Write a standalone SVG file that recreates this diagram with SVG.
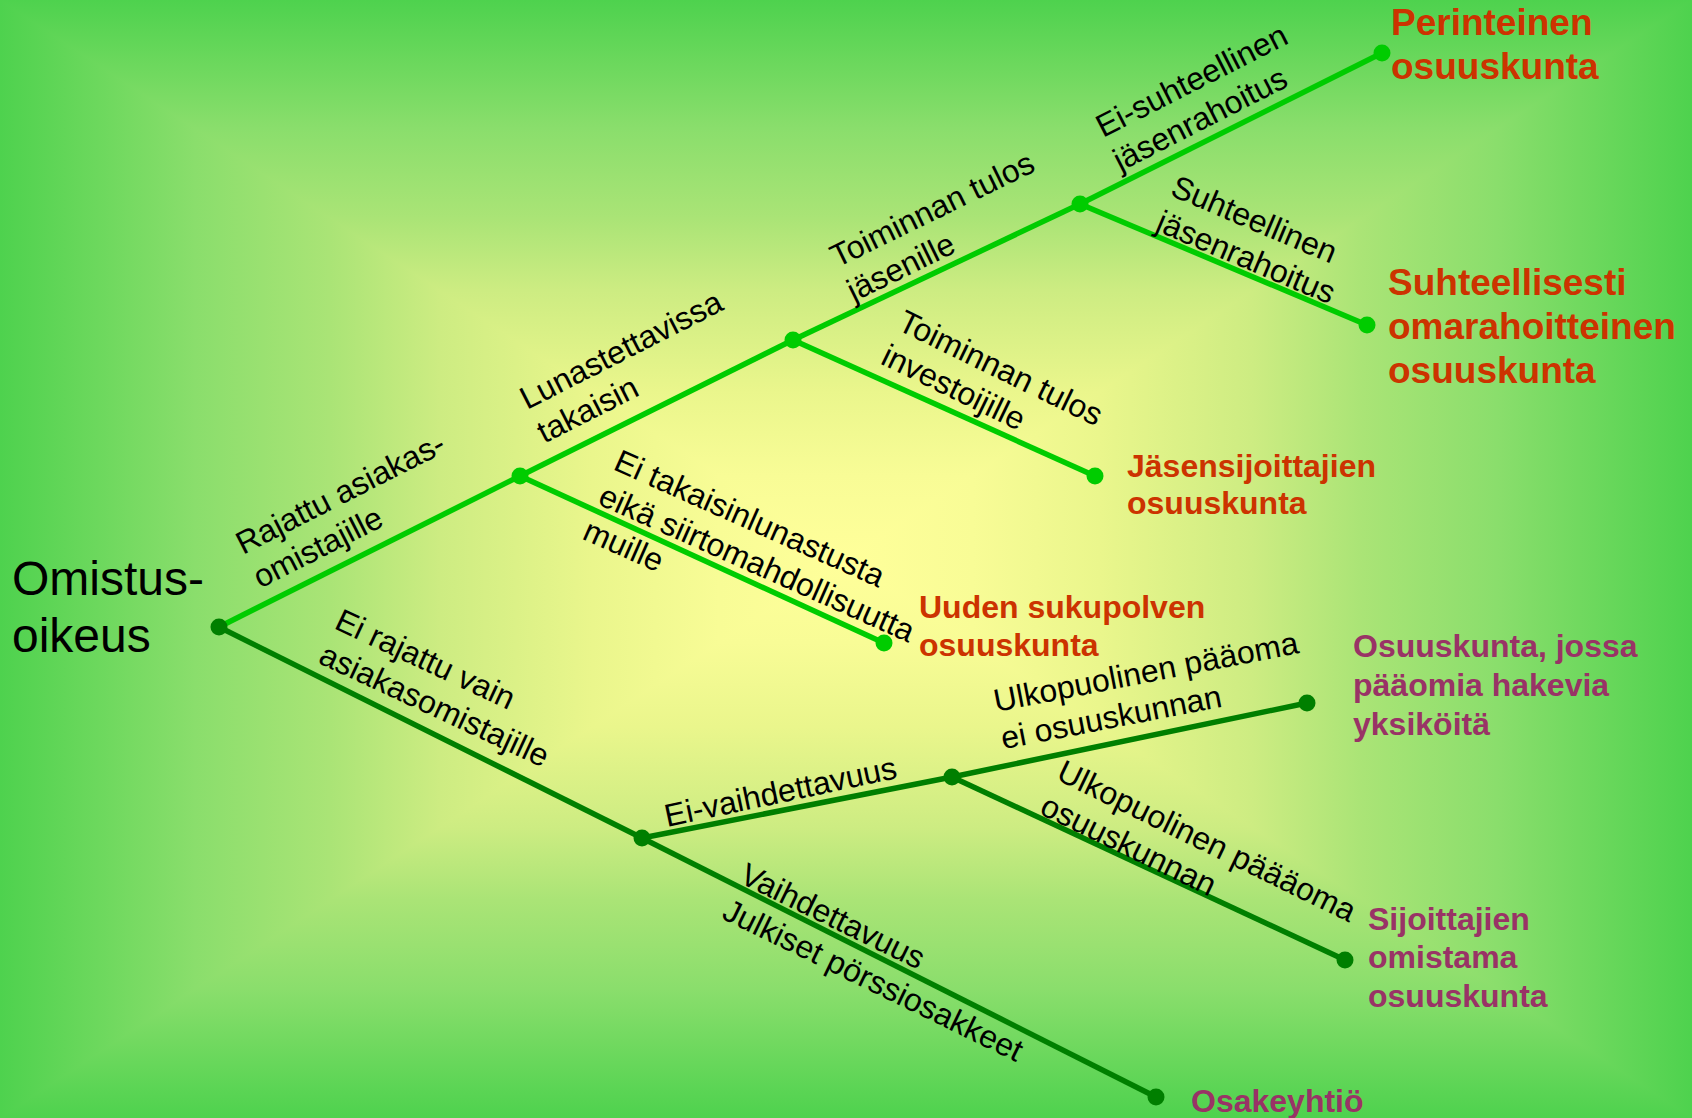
<svg xmlns="http://www.w3.org/2000/svg" xmlns:xlink="http://www.w3.org/1999/xlink" width="1692" height="1118" viewBox="0 0 1692 1118">
<defs>
<linearGradient id="g" gradientUnits="userSpaceOnUse" x1="0" y1="0" x2="846" y2="0">
<stop offset="0" stop-color="#4ED24E"/>
<stop offset="0.23" stop-color="#8ADE6C"/>
<stop offset="0.39" stop-color="#AAE476"/>
<stop offset="0.52" stop-color="#CDEC82"/>
<stop offset="0.70" stop-color="#EAF68C"/>
<stop offset="0.85" stop-color="#F8FC96"/>
<stop offset="1" stop-color="#FFFF9A"/>
</linearGradient>
<linearGradient id="gR" href="#g" xlink:href="#g" gradientUnits="userSpaceOnUse" x1="1692" y1="0" x2="846" y2="0"/>
<linearGradient id="gT" href="#g" xlink:href="#g" gradientUnits="userSpaceOnUse" x1="0" y1="0" x2="0" y2="559"/>
<linearGradient id="gB" href="#g" xlink:href="#g" gradientUnits="userSpaceOnUse" x1="0" y1="1118" x2="0" y2="559"/>
</defs>
<style>
.up{stroke:#00CC00;stroke-width:5.5;fill:none}
.dn{stroke:#007F00;stroke-width:5.5;fill:none}
.dup{fill:#00CC00}
.ddn{fill:#007F00}
.lbl{font-family:"Liberation Sans",Arial,sans-serif;font-size:32px;fill:#000}
.leaf{font-family:"Liberation Sans",Arial,sans-serif;font-size:32px;font-weight:bold}
.big{font-size:37px}
.red{fill:#CC3300}
.pur{fill:#993366}
.root{font-family:"Liberation Sans",Arial,sans-serif;font-size:48px;fill:#000}
</style>
<g id="background">
<rect x="0" y="0" width="846" height="1118" fill="url(#g)"/>
<rect x="846" y="0" width="846" height="1118" fill="url(#gR)"/>
<polygon points="0,0 1692,0 846,559" fill="url(#gT)"/>
<polygon points="0,1118 1692,1118 846,559" fill="url(#gB)"/>
</g>
<g id="connectors">
<g id="e-root-a"><line class="up" x1="219" y1="627" x2="520" y2="476"/>
<text class="lbl" transform="translate(243,555) rotate(-27)"><tspan x="0" y="0">Rajattu asiakas-</tspan><tspan x="0" y="38">omistajille</tspan></text></g>
<g id="e-a-b"><line class="up" x1="520" y1="476" x2="793" y2="340"/>
<text class="lbl" transform="translate(527,410) rotate(-27)"><tspan x="0" y="0">Lunastettavissa</tspan><tspan x="0" y="38">takaisin</tspan></text></g>
<g id="e-a-u"><line class="up" x1="520" y1="476" x2="884" y2="643"/>
<text class="lbl" transform="translate(612,469) rotate(24)"><tspan x="0" y="0">Ei takaisinlunastusta</tspan><tspan x="0" y="38">eikä siirtomahdollisuutta</tspan><tspan x="0" y="76">muille</tspan></text></g>
<g id="e-b-c"><line class="up" x1="793" y1="340" x2="1080" y2="204"/>
<text class="lbl" transform="translate(837,268) rotate(-26)"><tspan x="0" y="0">Toiminnan tulos</tspan><tspan x="0" y="38">jäsenille</tspan></text></g>
<g id="e-b-j"><line class="up" x1="793" y1="340" x2="1095" y2="476"/>
<text class="lbl" transform="translate(896,329) rotate(26)"><tspan x="0" y="0">Toiminnan tulos</tspan><tspan x="0" y="38">investoijille</tspan></text></g>
<g id="e-c-p"><line class="up" x1="1080" y1="204" x2="1382" y2="53"/>
<text class="lbl" transform="translate(1103,138) rotate(-27)"><tspan x="0" y="0">Ei-suhteellinen</tspan><tspan x="0" y="38">jäsenrahoitus</tspan></text></g>
<g id="e-c-s"><line class="up" x1="1080" y1="204" x2="1367" y2="325"/>
<text class="lbl" transform="translate(1169,195) rotate(23)"><tspan x="0" y="0">Suhteellinen</tspan><tspan x="0" y="38">jäsenrahoitus</tspan></text></g>
<g id="e-root-d"><line class="dn" x1="219" y1="627" x2="642" y2="838"/>
<text class="lbl" transform="translate(333,628) rotate(25)"><tspan x="0" y="0">Ei rajattu vain</tspan><tspan x="0" y="38">asiakasomistajille</tspan></text></g>
<g id="e-d-e"><line class="dn" x1="642" y1="838" x2="952" y2="777"/>
<text class="lbl" transform="translate(667,827) rotate(-12)">Ei-vaihdettavuus</text></g>
<g id="e-e-o"><line class="dn" x1="952" y1="777" x2="1307" y2="703"/>
<text class="lbl" transform="translate(996,712) rotate(-11)"><tspan x="0" y="0">Ulkopuolinen pääoma</tspan><tspan x="0" y="38">ei osuuskunnan</tspan></text></g>
<g id="e-e-sij"><line class="dn" x1="952" y1="777" x2="1345" y2="960"/>
<text class="lbl" transform="translate(1055,779) rotate(26)"><tspan x="0" y="0">Ulkopuolinen päääoma</tspan><tspan x="0" y="38">osuuskunnan</tspan></text></g>
<g id="e-d-osk"><line class="dn" x1="642" y1="838" x2="1156" y2="1097"/>
<text class="lbl" transform="translate(738,882) rotate(26)"><tspan x="0" y="0">Vaihdettavuus</tspan><tspan x="0" y="40">Julkiset pörssiosakkeet</tspan></text></g>
</g>
<g id="n-root"><circle class="ddn" cx="219" cy="627" r="8.5"/>
<text class="root"><tspan x="12" y="595">Omistus-</tspan><tspan x="12" y="652">oikeus</tspan></text></g>
<g id="n-a"><circle class="dup" cx="520" cy="476" r="8.5"/></g>
<g id="n-b"><circle class="dup" cx="793" cy="340" r="8.5"/></g>
<g id="n-c"><circle class="dup" cx="1080" cy="204" r="8.5"/></g>
<g id="n-d"><circle class="ddn" cx="642" cy="838" r="8.5"/></g>
<g id="n-e"><circle class="ddn" cx="952" cy="777" r="8.5"/></g>
<g id="n-perinteinen"><circle class="dup" cx="1382" cy="53" r="8.5"/>
<text class="leaf big red"><tspan x="1391" y="35">Perinteinen</tspan><tspan x="1391" y="79">osuuskunta</tspan></text></g>
<g id="n-suhteellisesti"><circle class="dup" cx="1367" cy="325" r="8.5"/>
<text class="leaf big red"><tspan x="1388" y="295">Suhteellisesti</tspan><tspan x="1388" y="339">omarahoitteinen</tspan><tspan x="1388" y="383">osuuskunta</tspan></text></g>
<g id="n-jasensijoittajien"><circle class="dup" cx="1095" cy="476" r="8.5"/>
<text class="leaf red"><tspan x="1127" y="477">Jäsensijoittajien</tspan><tspan x="1127" y="514">osuuskunta</tspan></text></g>
<g id="n-uuden"><circle class="dup" cx="884" cy="643" r="8.5"/>
<text class="leaf red"><tspan x="919" y="618">Uuden sukupolven</tspan><tspan x="919" y="656">osuuskunta</tspan></text></g>
<g id="n-osuuskunta-jossa"><circle class="ddn" cx="1307" cy="703" r="8.5"/>
<text class="leaf pur"><tspan x="1353" y="657">Osuuskunta, jossa</tspan><tspan x="1353" y="696">pääomia hakevia</tspan><tspan x="1353" y="735">yksiköitä</tspan></text></g>
<g id="n-sijoittajien"><circle class="ddn" cx="1345" cy="960" r="8.5"/>
<text class="leaf pur"><tspan x="1368" y="930">Sijoittajien</tspan><tspan x="1368" y="968">omistama</tspan><tspan x="1368" y="1007">osuuskunta</tspan></text></g>
<g id="n-osakeyhtio"><circle class="ddn" cx="1156" cy="1097" r="8.5"/>
<text class="leaf pur"><tspan x="1191" y="1112">Osakeyhtiö</tspan></text></g>
</svg>
